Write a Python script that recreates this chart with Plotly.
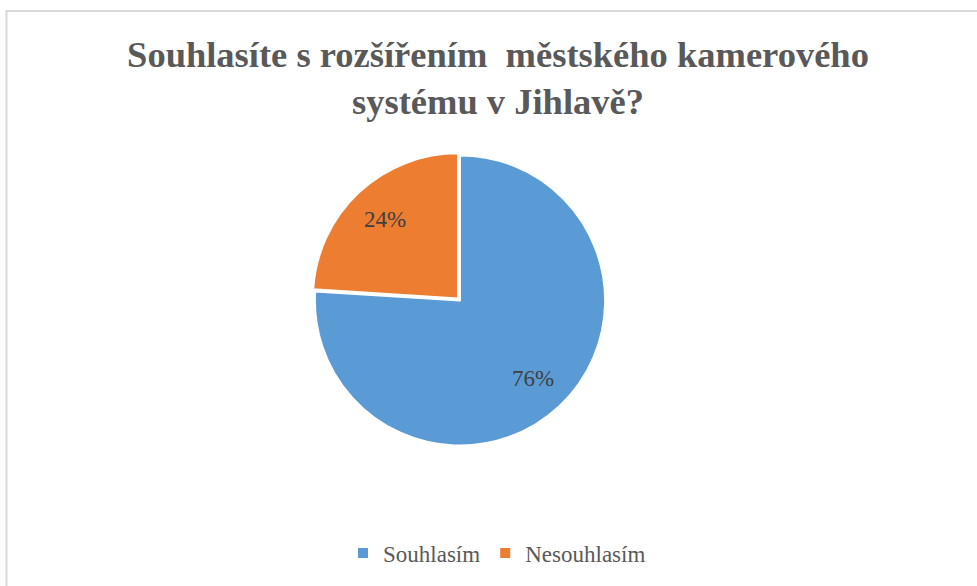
import math
import plotly.graph_objects as go

labels = ["Souhlasím", "Nesouhlasím"]
values = [76, 24]
colors = ["#5B9BD5", "#ED7D31"]
title_text = "Souhlasíte s rozšířením  městského kamerového<br>systému v Jihlavě?"

SERIF = "Times New Roman, Liberation Serif, DejaVu Serif, serif"
W, H = 977, 586
cx, cy, r = 459, 299, 145        # visual centre / radius in pixels
dx, dy = 1, 1.5                  # compensation for the pull shift

fig = go.Figure(go.Pie(
    labels=labels,
    values=values,
    sort=False,
    direction="clockwise",
    rotation=0,
    pull=[0, 0.02],
    marker=dict(colors=colors, line=dict(color="white", width=2)),
    textinfo="none",
    domain=dict(x=[(cx + dx - r - 3) / W, (cx + dx + r + 3) / W],
                y=[1 - (cy + dy + r + 3) / H, 1 - (cy + dy - r - 3) / H]),
    hoverinfo="label+percent",
))

# data labels at the middle angle of each slice
total = sum(values)
annotations = []
cum = 0
for v in values:
    mid = (cum + v / 2) / total * 2 * math.pi
    cum += v
    rr = 0.75 * r
    px = cx + rr * math.sin(mid)
    py = cy - rr * math.cos(mid)
    annotations.append(dict(
        x=px / W, y=1 - py / H, xref="paper", yref="paper",
        text=f"{round(v / total * 100)}%", showarrow=False,
        font=dict(family=SERIF, size=23, color="#404040"),
    ))

fig.update_layout(
    width=W, height=H,
    margin=dict(l=0, r=0, t=0, b=0),
    paper_bgcolor="white",
    title=dict(
        text=title_text,
        x=498 / W, xanchor="center",
        y=1 - 67 / H, yanchor="top",
        font=dict(family=SERIF, size=36.5, color="#595959", weight="bold"),
    ),
    legend=dict(
        orientation="h",
        x=497 / W, xanchor="center",
        y=1 - 553 / H, yanchor="middle",
        font=dict(family=SERIF, size=23, color="#595959"),
        traceorder="normal",
    ),
    annotations=annotations,
    shapes=[dict(
        type="rect", xref="paper", yref="paper",
        x0=6.5 / W, x1=1.05, y0=-0.05, y1=1 - 11 / H,
        line=dict(color="#D9D9D9", width=2),
        fillcolor="rgba(0,0,0,0)",
    )],
)

fig.write_html(
    "out.html",
    config={"displayModeBar": False},
    post_script="document.body.style.margin='0';document.body.style.padding='0';",
)
